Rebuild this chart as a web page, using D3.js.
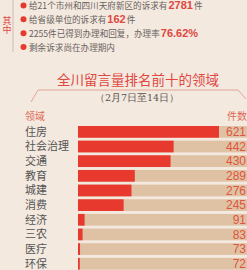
<!DOCTYPE html>
<html>
<head>
<meta charset="utf-8">
<script src="https://cdn.jsdelivr.net/npm/d3@7/dist/d3.min.js"></script>
<style>
    body { margin: 0; background: #f3e9df; }
    svg { display: block; font-family: "Noto Sans CJK SC", sans-serif; }
    .note { fill: #6a6260; font-size: 8.6px; font-family: "Noto Sans CJK SC", serif; }
    .hl { fill: #e0473f; font-size: 11px; font-family: "Liberation Sans", Arial, sans-serif; font-weight: bold; }
    .cat { fill: #555; font-size: 11px; }
    .val { fill: #e0553f; font-size: 12px; font-family: "Liberation Sans", Arial, sans-serif; }
</style>
</head>
<body>
<svg id="chart" width="247" height="270"></svg>
<script>
// top notes: [plain text before, highlighted number, plain after]
const notes = [
    ["给21个市州和四川天府新区的诉求有", "2781", "件"],
    ["给省级单位的诉求有", "162", "件"],
    ["2255件已得到办理和回复，办理率", "76.62%", ""],
    ["剩余诉求尚在办理期内", "", ""]
];
const categories = ["住房", "社会治理", "交通", "教育", "城建", "消费", "经济", "三农", "医疗", "环保"];
const counts = [621, 442, 430, 289, 276, 245, 91, 83, 73, 72];

const svg = d3.select("#chart");
const W = +svg.attr("width");

// ---- header block
svg.append("line").attr("x1", 13).attr("x2", 13).attr("y1", 0).attr("y2", 52)
    .attr("stroke", "#cdbfb3").attr("stroke-width", 1);
svg.append("text").attr("x", 7).attr("y", 16)
    .style("writing-mode", "vertical-rl")
    .attr("fill", "#e0473f").attr("font-size", 9).text("其中");

const noteY = d3.scalePoint().domain(d3.range(notes.length)).range([5.5, 47]);
notes.forEach((n, i) => {
    const y = noteY(i);
    svg.append("circle").attr("cx", 23.5).attr("cy", y).attr("r", 3).attr("fill", "#e8392e");
    const t = svg.append("text").attr("x", 29).attr("y", y + 3.5).attr("class", "note");
    t.append("tspan").text(n[0]);
    if (n[1]) t.append("tspan").attr("class", "hl").attr("dx", 1).text(n[1]);
    if (n[2]) t.append("tspan").attr("dx", 1).text(n[2]);
});

// ---- title
svg.append("text").attr("x", 138).attr("y", 84.5).attr("text-anchor", "middle")
    .attr("fill", "#e0473f").attr("font-size", 13.5).text("全川留言量排名前十的领域");
svg.append("path")
    .attr("d", "M31,102 L38,90 L238,90 L246,99")
    .attr("fill", "none").attr("stroke", "#e3a394").attr("stroke-width", 1);
svg.append("text").attr("x", 137).attr("y", 101).attr("text-anchor", "middle")
    .attr("fill", "#5a5350").attr("font-size", 9.5)
    .attr("font-family", "'DejaVu Serif', serif").text("（2月7日至14日）");

svg.append("text").attr("x", 25).attr("y", 119.5).attr("fill", "#e06a55").attr("font-size", 10).text("领域");
svg.append("text").attr("x", 247).attr("y", 119.5).attr("text-anchor", "end")
    .attr("fill", "#e06a55").attr("font-size", 10).text("件数");

// ---- bars
const y = d3.scaleBand().domain(categories).range([126, 269.6]).paddingInner(0.2);
const x = d3.scaleLinear().domain([65, 621]).range([78, 219]);

const rows = svg.append("g").selectAll("g").data(categories).join("g")
    .attr("transform", d => `translate(0,${y(d)})`);

rows.append("rect").attr("x", 78).attr("width", W - 78).attr("height", y.bandwidth())
    .attr("fill", "#dfc2a3");
rows.append("rect").attr("x", 78).attr("width", (d, i) => x(counts[i]) - 78)
    .attr("height", y.bandwidth()).attr("fill", "#e8392e");
rows.append("text").attr("class", "cat").attr("x", 25).attr("y", y.bandwidth() / 2)
    .attr("dy", "0.36em").text(d => d);
rows.append("text").attr("class", "val").attr("x", 246).attr("y", y.bandwidth() / 2)
    .attr("dy", "0.36em").attr("text-anchor", "end").text((d, i) => counts[i]);
</script>
</body>
</html>
